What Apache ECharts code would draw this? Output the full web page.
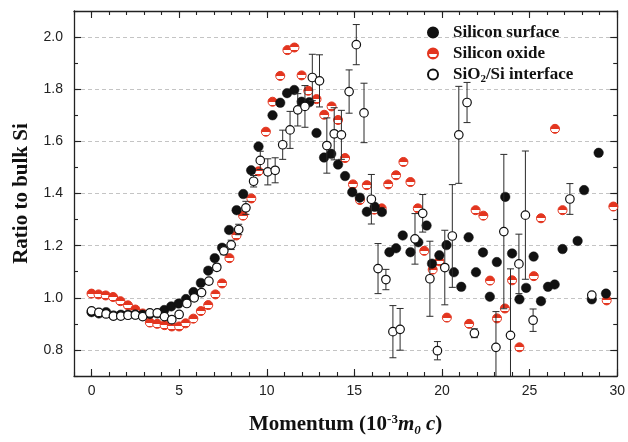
<!DOCTYPE html>
<html lang="en">
  <head>
    <meta charset="UTF-8" />
    <title>Ratio to bulk Si</title>
    <script src="https://cdn.jsdelivr.net/npm/echarts/dist/echarts.min.js"></script>
    <style>
      html, body { margin: 0; padding: 0; background: #fff; }
      #main { width: 628px; height: 442px; }
    </style>
  </head>
  <body>
    <div id="main"></div>
  </body>
  <script>
    // Silicon surface (filled black)
    var surfaceX = [0, 0.42, 0.83, 1.25, 1.67, 2.08, 2.5, 2.92, 3.33, 3.75, 4.15, 4.55, 4.97, 5.39, 5.82, 6.24, 6.66, 7.03, 7.45, 7.85, 8.28, 8.66, 9.11, 9.53, 10.33, 10.77, 11.16, 11.57, 11.99, 12.43, 12.84, 13.27, 13.68, 14.07, 14.47, 14.88, 15.31, 15.71, 16.16, 16.57, 17.0, 17.38, 17.76, 18.2, 18.65, 19.12, 19.43, 19.85, 20.26, 20.68, 21.1, 21.52, 21.94, 22.34, 22.73, 23.13, 23.61, 24.0, 24.42, 24.8, 25.23, 25.65, 26.05, 26.43, 26.88, 27.74, 28.11, 28.55, 28.94, 29.36];
    var surfaceY = [0.945, 0.94, 0.945, 0.932, 0.935, 0.935, 0.936, 0.935, 0.938, 0.94, 0.953, 0.967, 0.978, 0.995, 1.022, 1.057, 1.104, 1.152, 1.192, 1.26, 1.336, 1.398, 1.489, 1.58, 1.7, 1.748, 1.785, 1.797, 1.752, 1.75, 1.632, 1.538, 1.552, 1.511, 1.467, 1.405, 1.384, 1.33, 1.349, 1.329, 1.175, 1.19, 1.239, 1.175, 1.213, 1.277, 1.131, 1.163, 1.202, 1.098, 1.042, 1.232, 1.098, 1.174, 1.004, 1.137, 1.387, 1.17, 0.994, 1.038, 1.158, 0.987, 1.042, 1.051, 1.187, 1.218, 1.413, 0.994, 1.556, 1.016];
    // Silicon oxide (half red)
    var oxideX = [0, 0.4, 0.81, 1.23, 1.65, 2.08, 2.5, 2.92, 3.33, 3.75, 4.17, 4.58, 5.0, 5.37, 5.81, 6.24, 6.66, 7.07, 7.45, 7.87, 8.27, 8.65, 9.12, 9.53, 9.95, 10.33, 10.77, 11.18, 11.58, 11.99, 12.37, 12.84, 13.28, 13.7, 14.07, 14.47, 14.92, 15.32, 15.71, 16.14, 16.56, 16.93, 17.38, 17.8, 18.2, 18.62, 18.99, 19.47, 19.85, 20.28, 21.55, 21.92, 22.36, 22.74, 23.14, 23.59, 24.0, 24.42, 25.24, 25.65, 26.45, 26.88, 29.4, 29.78];
    var oxideY = [1.016, 1.013, 1.009, 1.003, 0.987, 0.971, 0.955, 0.94, 0.905, 0.9, 0.895, 0.89, 0.89, 0.902, 0.92, 0.949, 0.972, 1.013, 1.055, 1.152, 1.239, 1.315, 1.381, 1.485, 1.637, 1.752, 1.851, 1.95, 1.96, 1.853, 1.794, 1.762, 1.702, 1.734, 1.682, 1.536, 1.435, 1.375, 1.432, 1.338, 1.343, 1.435, 1.47, 1.521, 1.444, 1.343, 1.18, 1.108, 1.14, 0.924, 0.9, 1.336, 1.315, 1.066, 0.921, 0.959, 1.067, 0.81, 1.083, 1.305, 1.648, 1.336, 0.99, 1.35];
    // SiO2/Si interface (open, with error bars)
    var interfaceX = [0, 0.42, 0.83, 1.25, 1.67, 2.08, 2.5, 2.92, 3.33, 3.75, 4.16, 4.58, 5.0, 5.44, 5.86, 6.28, 6.7, 7.15, 7.55, 7.97, 8.4, 8.81, 9.25, 9.63, 10.06, 10.48, 10.91, 11.33, 11.77, 12.18, 12.6, 13.01, 13.43, 13.85, 14.26, 14.7, 15.11, 15.55, 15.97, 16.35, 16.8, 17.2, 17.61, 18.46, 18.9, 19.31, 19.74, 20.16, 20.59, 20.96, 21.43, 21.85, 23.08, 23.53, 23.91, 24.39, 24.76, 25.2, 27.3, 28.55];
    var interfaceY = [0.95, 0.944, 0.938, 0.93, 0.93, 0.933, 0.934, 0.928, 0.942, 0.942, 0.928, 0.916, 0.936, 0.978, 1.0, 1.02, 1.064, 1.117, 1.18, 1.203, 1.262, 1.345, 1.447, 1.527, 1.483, 1.489, 1.587, 1.644, 1.721, 1.734, 1.845, 1.832, 1.584, 1.629, 1.625, 1.791, 1.971, 1.709, 1.378, 1.112, 1.07, 0.87, 0.879, 1.226, 1.324, 1.073, 0.797, 1.116, 1.237, 1.625, 1.749, 0.864, 0.81, 1.254, 0.856, 1.13, 1.317, 0.914, 1.379, 1.01];
    var interfaceErr = [0.006, 0.006, 0.006, 0.006, 0.006, 0.006, 0.006, 0.006, 0.006, 0.006, 0.008, 0.008, 0.008, 0.01, 0.01, 0.01, 0.01, 0.012, 0.015, 0.018, 0.02, 0.025, 0.022, 0.035, 0.05, 0.048, 0.056, 0.071, 0.062, 0.08, 0.089, 0.1, 0.106, 0.1, 0.094, 0.083, 0.077, 0.114, 0.095, 0.096, 0.039, 0.1, 0.08, 0.097, 0.072, 0.144, 0.035, 0.143, 0.197, 0.186, 0.077, 0.017, 0.137, 0.296, 0.255, 0.114, 0.246, 0.043, 0.059, 0];
    // axis ticks
    var xMajor = [0, 5, 10, 15, 20, 25, 30];
    var yMajor = [0.8, 1.0, 1.2, 1.4, 1.6, 1.8, 2.0];
    var xMin = -1, xMax = 30, yMin = 0.7, yMax = 2.1;

    var SERIF = "'Liberation Serif', 'Times New Roman', serif";
    var SANS = "'Liberation Sans', Arial, Helvetica, sans-serif";
    var RED = "#e3351f";

    function pairs(xs, ys) {
      return xs.map(function (x, i) {
        return [x, ys[i]];
      });
    }
    var errData = [];
    interfaceX.forEach(function (x, i) {
      if (interfaceErr[i] > 0) {
        errData.push([x, interfaceY[i] - interfaceErr[i], interfaceY[i] + interfaceErr[i]]);
      }
    });

    //误差棒
    function renderErrorBar(params, api) {
      var x = api.value(0);
      var lo = api.value(1);
      var hi = api.value(2);
      var top = api.coord([x, Math.min(hi, yMax)]);
      var bot = api.coord([x, Math.max(lo, yMin)]);
      var half = 3.5;
      var st = { stroke: "#2a2a2a", lineWidth: 1 };
      var kids = [
        { type: "line", shape: { x1: top[0], y1: top[1], x2: bot[0], y2: bot[1] }, style: st },
      ];
      if (hi <= yMax) {
        kids.push({ type: "line", shape: { x1: top[0] - half, y1: top[1], x2: top[0] + half, y2: top[1] }, style: st });
      }
      if (lo >= yMin) {
        kids.push({ type: "line", shape: { x1: bot[0] - half, y1: bot[1], x2: bot[0] + half, y2: bot[1] }, style: st });
      }
      return { type: "group", children: kids };
    }

    // one axis (major or minor ticks)
    function xAx(pos, major) {
      var a = {
        type: "value",
        position: pos,
        min: xMin,
        max: xMax,
        axisLine: { show: major, onZero: false, lineStyle: { color: "#222", width: 1.3 } },
        axisTick: { show: true, inside: true, length: major ? 7 : 4, lineStyle: { color: "#222", width: 1.1 } },
        axisLabel: { show: false },
        splitLine: { show: false },
      };
      if (major) {
        a.axisTick.customValues = xMajor;
      } else {
        a.interval = 1;
      }
      return a;
    }
    function yAx(pos, major) {
      var a = {
        type: "value",
        position: pos,
        min: yMin,
        max: yMax,
        axisLine: { show: major, onZero: false, lineStyle: { color: "#222", width: 1.3 } },
        axisTick: { show: true, inside: true, length: major ? 7 : 4, lineStyle: { color: "#222", width: 1.1 } },
        axisLabel: { show: false },
        splitLine: { show: false },
      };
      if (major) {
        a.axisTick.customValues = yMajor;
      } else {
        a.interval = 0.1;
      }
      return a;
    }

    var xBottom = xAx("bottom", true);
    xBottom.axisLabel = {
      show: true,
      customValues: xMajor,
      margin: 8,
      color: "#222",
      fontFamily: SANS,
      fontSize: 14,
    };
    xBottom.name = "{b|Momentum (10}{sup|-3}{bi|m}{sub|0}{bi| c}{b|)}";
    xBottom.nameLocation = "middle";
    xBottom.nameGap = 37;
    xBottom.nameTextStyle = {
      rich: {
        b: { fontFamily: SERIF, fontWeight: "bold", fontSize: 21, color: "#111", lineHeight: 24 },
        bi: { fontFamily: SERIF, fontWeight: "bold", fontStyle: "italic", fontSize: 21, color: "#111", lineHeight: 24 },
        sup: { fontFamily: SERIF, fontWeight: "bold", fontSize: 13, color: "#111", lineHeight: 10, verticalAlign: "top" },
        sub: { fontFamily: SERIF, fontWeight: "bold", fontStyle: "italic", fontSize: 13, color: "#111", lineHeight: 10, verticalAlign: "bottom" },
      },
    };

    var yLeft = yAx("left", true);
    yLeft.axisLabel = {
      show: true,
      customValues: yMajor,
      margin: 11,
      color: "#222",
      fontFamily: SANS,
      fontSize: 14,
      formatter: function (v) {
        return v.toFixed(1);
      },
    };
    yLeft.splitLine = { show: true, lineStyle: { color: "#c4c4c4", type: [4, 3], width: 1 } };
    yLeft.name = "Ratio to bulk Si";
    yLeft.nameLocation = "middle";
    yLeft.nameGap = 42;
    yLeft.nameTextStyle = { fontFamily: SERIF, fontWeight: "bold", fontSize: 21, color: "#111" };

    var oxideFill = new echarts.graphic.LinearGradient(0, 0, 0, 1, [
      { offset: 0, color: RED },
      { offset: 0.5, color: RED },
      { offset: 0.5, color: "#fff" },
      { offset: 0.8, color: "#fff" },
      { offset: 0.8, color: RED },
      { offset: 1, color: RED },
    ]);

    var chart = echarts.init(document.getElementById("main"));
    var option = {
      animation: false,
      backgroundColor: "#fff",
      grid: { left: 74, right: 7, top: 11, bottom: 62 },
      legend: {
        data: ["Silicon surface", "Silicon oxide", "SiO2/Si interface"],
        orient: "vertical",
        left: 422,
        top: 19,
        itemWidth: 10,
        itemHeight: 10,
        itemGap: 4,
        formatter: function (name) {
          if (name === "SiO2/Si interface") {
            return "{a|SiO}{s|2}{a|/Si interface}";
          }
          return "{a|" + name + "}";
        },
        textStyle: {
          padding: [0, 0, 0, 10],
          rich: {
            a: { fontFamily: SERIF, fontWeight: "bold", fontSize: 17, color: "#111", lineHeight: 20 },
            s: { fontFamily: SERIF, fontWeight: "bold", fontSize: 11, color: "#111", lineHeight: 9, verticalAlign: "bottom" },
          },
        },
      },
      xAxis: [xBottom, xAx("bottom", false), xAx("top", true), xAx("top", false)],
      yAxis: [yLeft, yAx("left", false), yAx("right", true), yAx("right", false)],
      series: [
        {
          name: "Silicon oxide",
          type: "scatter",
          symbol: "circle",
          symbolSize: 9,
          itemStyle: { color: oxideFill, borderColor: RED, borderWidth: 1, opacity: 1 },
          data: pairs(oxideX, oxideY),
          z: 2,
        },
        {
          name: "Silicon surface",
          type: "scatter",
          symbol: "circle",
          symbolSize: 9.5,
          itemStyle: { color: "#111", borderColor: "#111", borderWidth: 0.5, opacity: 1 },
          data: pairs(surfaceX, surfaceY),
          z: 3,
        },
        {
          name: "SiO2/Si interface",
          type: "scatter",
          symbol: "circle",
          symbolSize: 8.5,
          itemStyle: { color: "#fff", borderColor: "#111", borderWidth: 1.2, opacity: 1 },
          data: pairs(interfaceX, interfaceY),
          z: 5,
        },
        {
          name: "interface error",
          type: "custom",
          renderItem: renderErrorBar,
          encode: { x: 0, y: [1, 2] },
          data: errData,
          z: 4,
          silent: true,
        },
      ],
    };
    chart.setOption(option);
  </script>
</html>
